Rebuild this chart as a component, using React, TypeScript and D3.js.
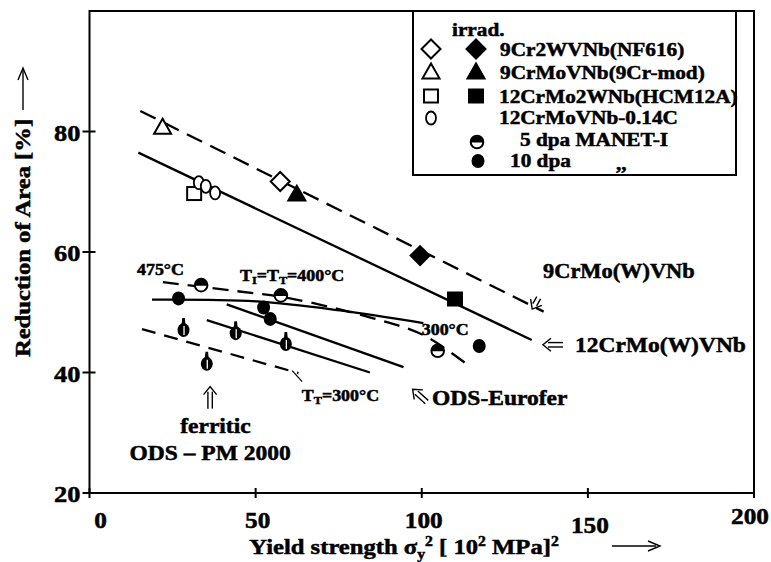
import React from "react";
import * as d3 from "d3";

const W = 771;
const H = 562;

const xTicks = [0, 50, 100, 150, 200];
const yTicks = [20, 40, 60, 80];

// open = unirradiated, filled = irradiated
const nf616Open = [[57.4, 71.7]];
const nf616Irr = [[99.5, 59.4]];
const modOpen = [[22.0, 80.7]];
const modIrr = [[62.4, 69.6]];
const hcmOpen = [[31.5, 69.7]];
const hcmIrr = [[110.0, 52.2]];
const c014Open = [[32.9, 71.5], [35.0, 70.9], [37.8, 69.8]];
const manet5 = [[33.6, 54.5], [57.6, 52.8], [104.8, 43.6]];
const manet10 = [[26.8, 52.3], [52.4, 50.8], [54.4, 48.9], [117.3, 44.4]];
const pm2000 = [[28.3, 47.2], [44.0, 46.7], [59.1, 44.9], [35.3, 41.6]];

// trend lines
const line9Cr = [[15.3, 83.4], [136.7, 50.1]];
const line12Cr = [[14.7, 76.5], [133.1, 45.4]];
const line475 = [[22.1, 55.0], [44.3, 53.5], [60.4, 52.3], [85.4, 49.0], [100.5, 46.2], [113.5, 41.4]];
const line300 = [[18.8, 52.1], [50.4, 51.8], [75.4, 50.3], [100.5, 48.2]];
const euroferA = [[41.3, 51.3], [94.5, 40.9]];
const euroferB = [[35.3, 48.7], [84.4, 40.0]];
const lineTT300 = [[15.8, 47.2], [62.9, 39.9]];

const FONT = "'Liberation Serif', 'Times New Roman', serif";

const x = d3.scaleLinear().domain([0, 200]).range([89.5, 754]);
const y = d3.scaleLinear().domain([20, 100]).range([493, 11]);

function T({ px, py, size = 18, sx = 1.12, anchor = "start", rotate = 0, children }: any) {
  return (
    <text
      transform={`translate(${px},${py}) rotate(${rotate}) scale(${sx},1)`}
      fontSize={size}
      fontWeight="bold"
      fontFamily={FONT}
      textAnchor={anchor}
      fill="#000"
      stroke="#000"
      strokeWidth={0.5}
    >
      {children}
    </text>
  );
}

// hollow double arrow, drawn pointing along +x then rotated
function DArrow({ px, py, len = 20, angle = 0 }: any) {
  const h = len;
  return (
    <g transform={`translate(${px},${py}) rotate(${angle})`} fill="none" stroke="#000" strokeWidth={1.4}>
      <line x1={0} y1={-2.2} x2={h - 5} y2={-2.2} />
      <line x1={0} y1={2.2} x2={h - 5} y2={2.2} />
      <path d={`M${h - 8},-6.5L${h},0L${h - 8},6.5`} />
    </g>
  );
}

function Marker({ kind, cx, cy }: any) {
  const s = 2;
  switch (kind) {
    case "diamondOpen":
    case "diamond": {
      const r = 9.5;
      return (
        <path
          d={`M${cx},${cy - r}L${cx + r},${cy}L${cx},${cy + r}L${cx - r},${cy}Z`}
          fill={kind === "diamond" ? "#000" : "#fff"}
          stroke="#000"
          strokeWidth={s}
        />
      );
    }
    case "triOpen":
    case "tri": {
      const r = 8.5;
      return (
        <path
          d={`M${cx},${cy - r}L${cx + r},${cy + r * 0.75}L${cx - r},${cy + r * 0.75}Z`}
          fill={kind === "tri" ? "#000" : "#fff"}
          stroke="#000"
          strokeWidth={s}
        />
      );
    }
    case "sqOpen":
    case "sq":
      return (
        <rect x={cx - 7} y={cy - 6.5} width={14} height={13} fill={kind === "sq" ? "#000" : "#fff"} stroke="#000" strokeWidth={s} />
      );
    case "circOpen":
      return <ellipse cx={cx} cy={cy} rx={5} ry={6.5} fill="#fff" stroke="#000" strokeWidth={1.8} />;
    case "half":
      return (
        <g>
          <circle cx={cx} cy={cy} r={6.3} fill="#fff" stroke="#000" strokeWidth={2} />
          <path d={`M${cx - 6.3},${cy + 0.5}A6.3,6.3 0 0 1 ${cx + 6.3},${cy + 0.5}Z`} fill="#000" />
        </g>
      );
    case "full":
      return <ellipse cx={cx} cy={cy} rx={6.5} ry={7} fill="#000" />;
    case "pm":
      return (
        <g>
          <path d={`M${cx - 1.3},${cy - 11}L${cx + 1.3},${cy - 11}L${cx + 2},${cy - 4}L${cx - 2},${cy - 4}Z`} fill="#000" />
          <ellipse cx={cx} cy={cy + 1} rx={6} ry={7} fill="#000" />
          <line x1={cx + 0.5} y1={cy - 3} x2={cx + 0.5} y2={cy + 6} stroke="#fff" strokeWidth={1.3} />
        </g>
      );
  }
  return null;
}

const seriesList: [any[], string][] = [
  [nf616Open, "diamondOpen"],
  [nf616Irr, "diamond"],
  [modOpen, "triOpen"],
  [modIrr, "tri"],
  [hcmOpen, "sqOpen"],
  [hcmIrr, "sq"],
  [c014Open, "circOpen"],
  [manet5, "half"],
  [manet10, "full"],
  [pm2000, "pm"],
];

export default function App() {
  const straight = d3.line<number[]>().x((d) => x(d[0])).y((d) => y(d[1]));
  const curved = d3
    .line<number[]>()
    .x((d) => x(d[0]))
    .y((d) => y(d[1]))
    .curve(d3.curveCatmullRom);

  const lineStyle = { fill: "none", stroke: "#000", strokeWidth: 2.3 };

  return (
    <svg width={W} height={H} style={{ position: "absolute", left: 0, top: 0, background: "#fff" }}>
      <rect width={W} height={H} fill="#fff" />
      {/* frame */}
      <rect x={x(0)} y={y(100)} width={x(200) - x(0)} height={y(20) - y(100)} fill="none" stroke="#000" strokeWidth={2} />
      {yTicks.map((t) => (
        <g key={"y" + t}>
          <line x1={x(0) - 7} x2={x(0) + 6} y1={y(t)} y2={y(t)} stroke="#000" strokeWidth={2} />
          <T px={x(0) - 9} py={y(t) + 9} size={24} sx={1.1} anchor="end">
            {t}
          </T>
        </g>
      ))}
      {xTicks.map((t) => (
        <g key={"x" + t}>
          <line x1={x(t)} x2={x(t)} y1={y(20) - 5} y2={y(20) + 5} stroke="#000" strokeWidth={2} />
          <T
            px={x(t) + (t === 0 ? 11 : t === 200 ? -4 : 2)}
            py={y(20) + (t === 150 ? 40 : t === 200 ? 31 : 35)}
            size={23}
            sx={1.1}
            anchor="middle"
          >
            {t}
          </T>
        </g>
      ))}

      {/* axis titles */}
      <T px={404} py={554} size={22} anchor="middle">
        Yield strength σ
        <tspan fontSize={14} dy={5}>y</tspan>
        <tspan fontSize={14} dy={-13}>2</tspan>
        <tspan dy={8}>{"  [ 10"}</tspan>
        <tspan fontSize={14} dy={-8}>2</tspan>
        <tspan dy={8}>{"  MPa]"}</tspan>
        <tspan fontSize={14} dy={-8}>2</tspan>
      </T>
      <line x1={612} x2={656} y1={546} y2={546} stroke="#000" strokeWidth={1.4} />
      <path d="M648,541L660,546L648,551" fill="none" stroke="#000" strokeWidth={1.4} />

      <T px={30} py={238} size={22} anchor="middle" rotate={-90}>
        Reduction of Area [%]
      </T>
      <line x1={23} x2={23} y1={110} y2={70} stroke="#000" strokeWidth={1.4} />
      <path d="M18,80L23,68L28,80" fill="none" stroke="#000" strokeWidth={1.4} />

      {/* trend lines */}
      <path d={straight(line9Cr) || ""} {...lineStyle} strokeDasharray="17 9" />
      <path d={straight(line12Cr) || ""} {...lineStyle} />
      <path d={curved(line475) || ""} {...lineStyle} strokeDasharray="16 9" />
      <path d={curved(line300) || ""} {...lineStyle} />
      <path d={straight(euroferA) || ""} {...lineStyle} />
      <path d={straight(euroferB) || ""} {...lineStyle} />
      <path d={straight(lineTT300) || ""} {...lineStyle} strokeDasharray="14 9" />

      {/* markers */}
      {seriesList.map(([data, kind], i) =>
        data.map((d: number[], j: number) => <Marker key={i + "-" + j} kind={kind} cx={x(d[0])} cy={y(d[1])} />)
      )}

      {/* annotations */}
      <T px={x(14.3)} py={y(56.2)} size={16}>475°C</T>
      <T px={x(45.3)} py={y(55.2)} size={16}>
        T<tspan fontSize={11} dy={3}>I</tspan>
        <tspan dy={-3}>=T</tspan>
        <tspan fontSize={11} dy={3}>T</tspan>
        <tspan dy={-3}>=400°C</tspan>
      </T>
      <T px={x(100)} py={y(46.2)} size={16}>300°C</T>
      <T px={x(63.9)} py={y(35.3)} size={16}>
        T<tspan fontSize={11} dy={3}>T</tspan>
        <tspan dy={-3}>=300°C</tspan>
      </T>
      <line x1={x(61)} y1={y(40.3)} x2={x(64)} y2={y(38.5)} stroke="#000" strokeWidth={1.2} />
      <DArrow px={x(36.3)} py={y(34.0)} len={22} angle={-90} />
      <T px={x(37.9)} py={y(29.9)} size={21} anchor="middle">ferritic</T>
      <T px={x(36.3)} py={y(25.4)} size={21} anchor="middle">ODS – PM 2000</T>
      <T px={x(103.1)} py={y(34.6)} size={21}>ODS-Eurofer</T>
      <DArrow px={x(101.5)} py={y(35.1)} len={19} angle={-138} />
      <T px={x(136.5)} py={y(55.7)} size={20}>9CrMo(W)VNb</T>
      <DArrow px={x(135.2)} py={y(52.4)} len={13} angle={120} />
      <T px={x(146.1)} py={y(43.4)} size={21}>12CrMo(W)VNb</T>
      <DArrow px={x(142.5)} py={y(44.6)} len={20} angle={180} />

      {/* legend */}
      <rect x={413} y={11} width={323} height={164} fill="#fff" stroke="#000" strokeWidth={2} />
      <T px={452} py={36} size={19}>irrad.</T>
      <Marker kind="diamondOpen" cx={431} cy={49} />
      <Marker kind="diamond" cx={476} cy={49} />
      <T px={500} py={56} size={19}>9Cr2WVNb(NF616)</T>
      <Marker kind="triOpen" cx={431} cy={72} />
      <Marker kind="tri" cx={476} cy={72} />
      <T px={500} py={79} size={19}>9CrMoVNb(9Cr-mod)</T>
      <Marker kind="sqOpen" cx={431} cy={96} />
      <Marker kind="sq" cx={476} cy={96} />
      <T px={499} py={103} size={19}>12CrMo2WNb(HCM12A)</T>
      <Marker kind="circOpen" cx={431} cy={118} />
      <T px={499} py={124} size={19}>12CrMoVNb-0.14C</T>
      <Marker kind="half" cx={477} cy={142} />
      <T px={520} py={146} size={19}>5 dpa  MANET-I</T>
      <Marker kind="full" cx={478} cy={161} />
      <T px={510} py={167} size={19}>10 dpa</T>
      <T px={616} py={170} size={19}>,,</T>
    </svg>
  );
}
